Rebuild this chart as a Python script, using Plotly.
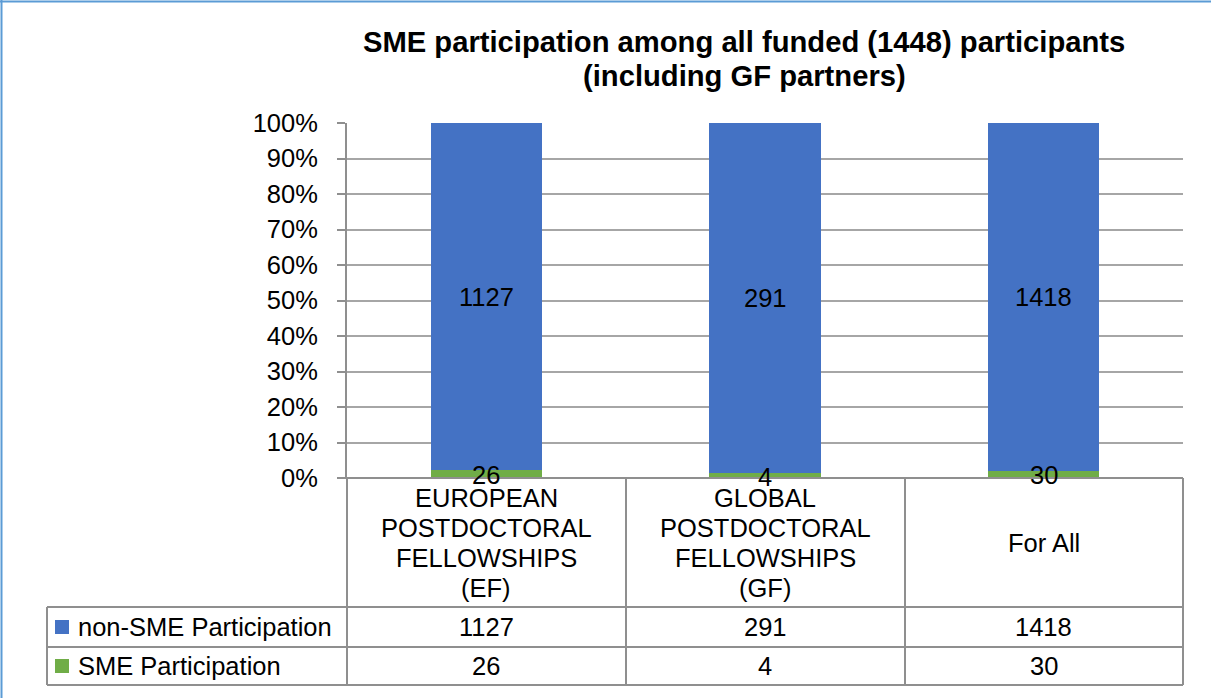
import plotly.graph_objects as go

# ---- data ----
categories = ["EF", "GF", "All"]
category_labels = [
    "EUROPEAN<br>POSTDOCTORAL<br>FELLOWSHIPS<br>(EF)",
    "GLOBAL<br>POSTDOCTORAL<br>FELLOWSHIPS<br>(GF)",
    "For All",
]
series_names = ["non-SME Participation", "SME Participation"]
non_sme = [1127, 291, 1418]
sme = [26, 4, 30]
title_lines = ["SME participation among all funded (1448) participants",
               "(including GF partners)"]

BLUE = "#4472C4"
GREEN = "#70AD47"
FONT = "Liberation Sans, Arial, sans-serif"

# ---- layout geometry (pixels) ----
W, H = 1211, 698
L, R, T, B = 347, 1183, 123, 478
TBL_LEFT = 47
ROW_LINES = [478, 607, 647, 685]
COL_LINES = [347, 626, 905, 1183]


def px(x):
    return (x - L) / (R - L)


def py(y):
    return (B - y) / (B - T)


totals = [a + b for a, b in zip(non_sme, sme)]
sme_pct = [s / t * 100 for s, t in zip(sme, totals)]
non_pct = [n / t * 100 for n, t in zip(non_sme, totals)]

fig = go.Figure()
fig.add_trace(go.Bar(x=categories, y=sme, name=series_names[1],
                     marker=dict(color=GREEN, line=dict(width=0))))
fig.add_trace(go.Bar(x=categories, y=non_sme, name=series_names[0],
                     marker=dict(color=BLUE, line=dict(width=0))))

annotations = []
shapes = []

# data labels
for c, n, npct, s, spct in zip(categories, non_sme, non_pct, sme, sme_pct):
    annotations.append(dict(x=c, y=spct + npct / 2, xref="x", yref="y",
                            text=str(n), showarrow=False,
                            font=dict(size=25.5, color="black", family=FONT)))
    annotations.append(dict(x=c, y=spct / 2, xref="x", yref="y",
                            text=str(s), showarrow=False, yshift=-1,
                            font=dict(size=25.5, color="black", family=FONT)))

# title
for i, t in enumerate(title_lines):
    annotations.append(dict(x=px(744), y=py(42 + 34 * i), xref="paper", yref="paper",
                            text="<b>" + t + "</b>", showarrow=False,
                            xanchor="center", yanchor="middle",
                            font=dict(size=29.2, color="black", family=FONT)))

# table header labels (one annotation per line)
header_center = (ROW_LINES[0] + ROW_LINES[1]) / 2
for c, lab in zip(categories, category_labels):
    lines = lab.split("<br>")
    n = len(lines)
    for j, ln in enumerate(lines):
        yy = header_center + (j - (n - 1) / 2) * 30
        annotations.append(dict(x=c, y=py(yy), xref="x", yref="paper",
                                text=ln, showarrow=False,
                                xanchor="center", yanchor="middle",
                                font=dict(size=25.5, color="black", family=FONT)))

# table body
row_vals = [non_sme, sme]
row_colors = [BLUE, GREEN]
for r, (name, vals, col) in enumerate(zip(series_names, row_vals, row_colors)):
    top, bot = ROW_LINES[1 + r], ROW_LINES[2 + r]
    yc = (top + bot) / 2
    for c, v in zip(categories, vals):
        annotations.append(dict(x=c, y=py(yc), xref="x", yref="paper",
                                text=str(v), showarrow=False,
                                xanchor="center", yanchor="middle",
                                font=dict(size=25.5, color="black", family=FONT)))
    annotations.append(dict(x=px(76), y=py(yc), xref="paper", yref="paper",
                            text=name, showarrow=False,
                            xanchor="left", yanchor="middle",
                            font=dict(size=25.5, color="black", family=FONT)))
    shapes.append(dict(type="rect", xref="paper", yref="paper",
                       x0=px(55), x1=px(69), y0=py(yc - 7), y1=py(yc + 7),
                       fillcolor=col, line=dict(width=0)))

LINE_C = "#8f8f8f"
# horizontal table lines
for i, y in enumerate(ROW_LINES):
    x0 = 339 if i == 0 else TBL_LEFT
    shapes.append(dict(type="line", xref="paper", yref="paper",
                       x0=px(x0), x1=px(R), y0=py(y), y1=py(y),
                       line=dict(color=LINE_C, width=2)))
# vertical table lines
for x in COL_LINES:
    shapes.append(dict(type="line", xref="paper", yref="paper",
                       x0=px(x), x1=px(x), y0=py(ROW_LINES[0]), y1=py(ROW_LINES[-1]),
                       line=dict(color=LINE_C, width=2)))
shapes.append(dict(type="line", xref="paper", yref="paper",
                   x0=px(TBL_LEFT), x1=px(TBL_LEFT), y0=py(ROW_LINES[1]), y1=py(ROW_LINES[-1]),
                   line=dict(color=LINE_C, width=2)))

# outer blue frame (left & top visible)
shapes.append(dict(type="line", xref="paper", yref="paper",
                   x0=px(1.5), x1=px(1.5), y0=py(0), y1=py(H),
                   line=dict(color="#5B9BD5", width=2)))
shapes.append(dict(type="line", xref="paper", yref="paper",
                   x0=px(0), x1=px(W), y0=py(1.5), y1=py(1.5),
                   line=dict(color="#5B9BD5", width=2)))

fig.update_layout(
    barmode="stack",
    barnorm="percent",
    bargap=0.6,
    width=W, height=H,
    margin=dict(l=L, r=W - R, t=T, b=H - B, pad=0),
    paper_bgcolor="white",
    plot_bgcolor="white",
    showlegend=False,
    font=dict(family=FONT, color="black"),
    annotations=annotations,
    shapes=shapes,
)
fig.update_xaxes(showticklabels=False, showgrid=False, zeroline=False,
                 showline=False, ticks="")
fig.update_yaxes(range=[0, 100], dtick=10, ticksuffix="%",
                 showgrid=True, gridcolor="#a6a6a6", gridwidth=1.5,
                 zeroline=False, showline=True, linecolor=LINE_C, linewidth=2,
                 ticks="outside", ticklen=8, tickcolor=LINE_C, tickwidth=1.5,
                 ticklabelstandoff=14,
                 tickfont=dict(size=25.5, color="black", family=FONT))

fig.write_html(
    "out.html",
    config={"displayModeBar": False},
    post_script="document.body.style.margin='0';document.body.style.overflow='hidden';",
)
